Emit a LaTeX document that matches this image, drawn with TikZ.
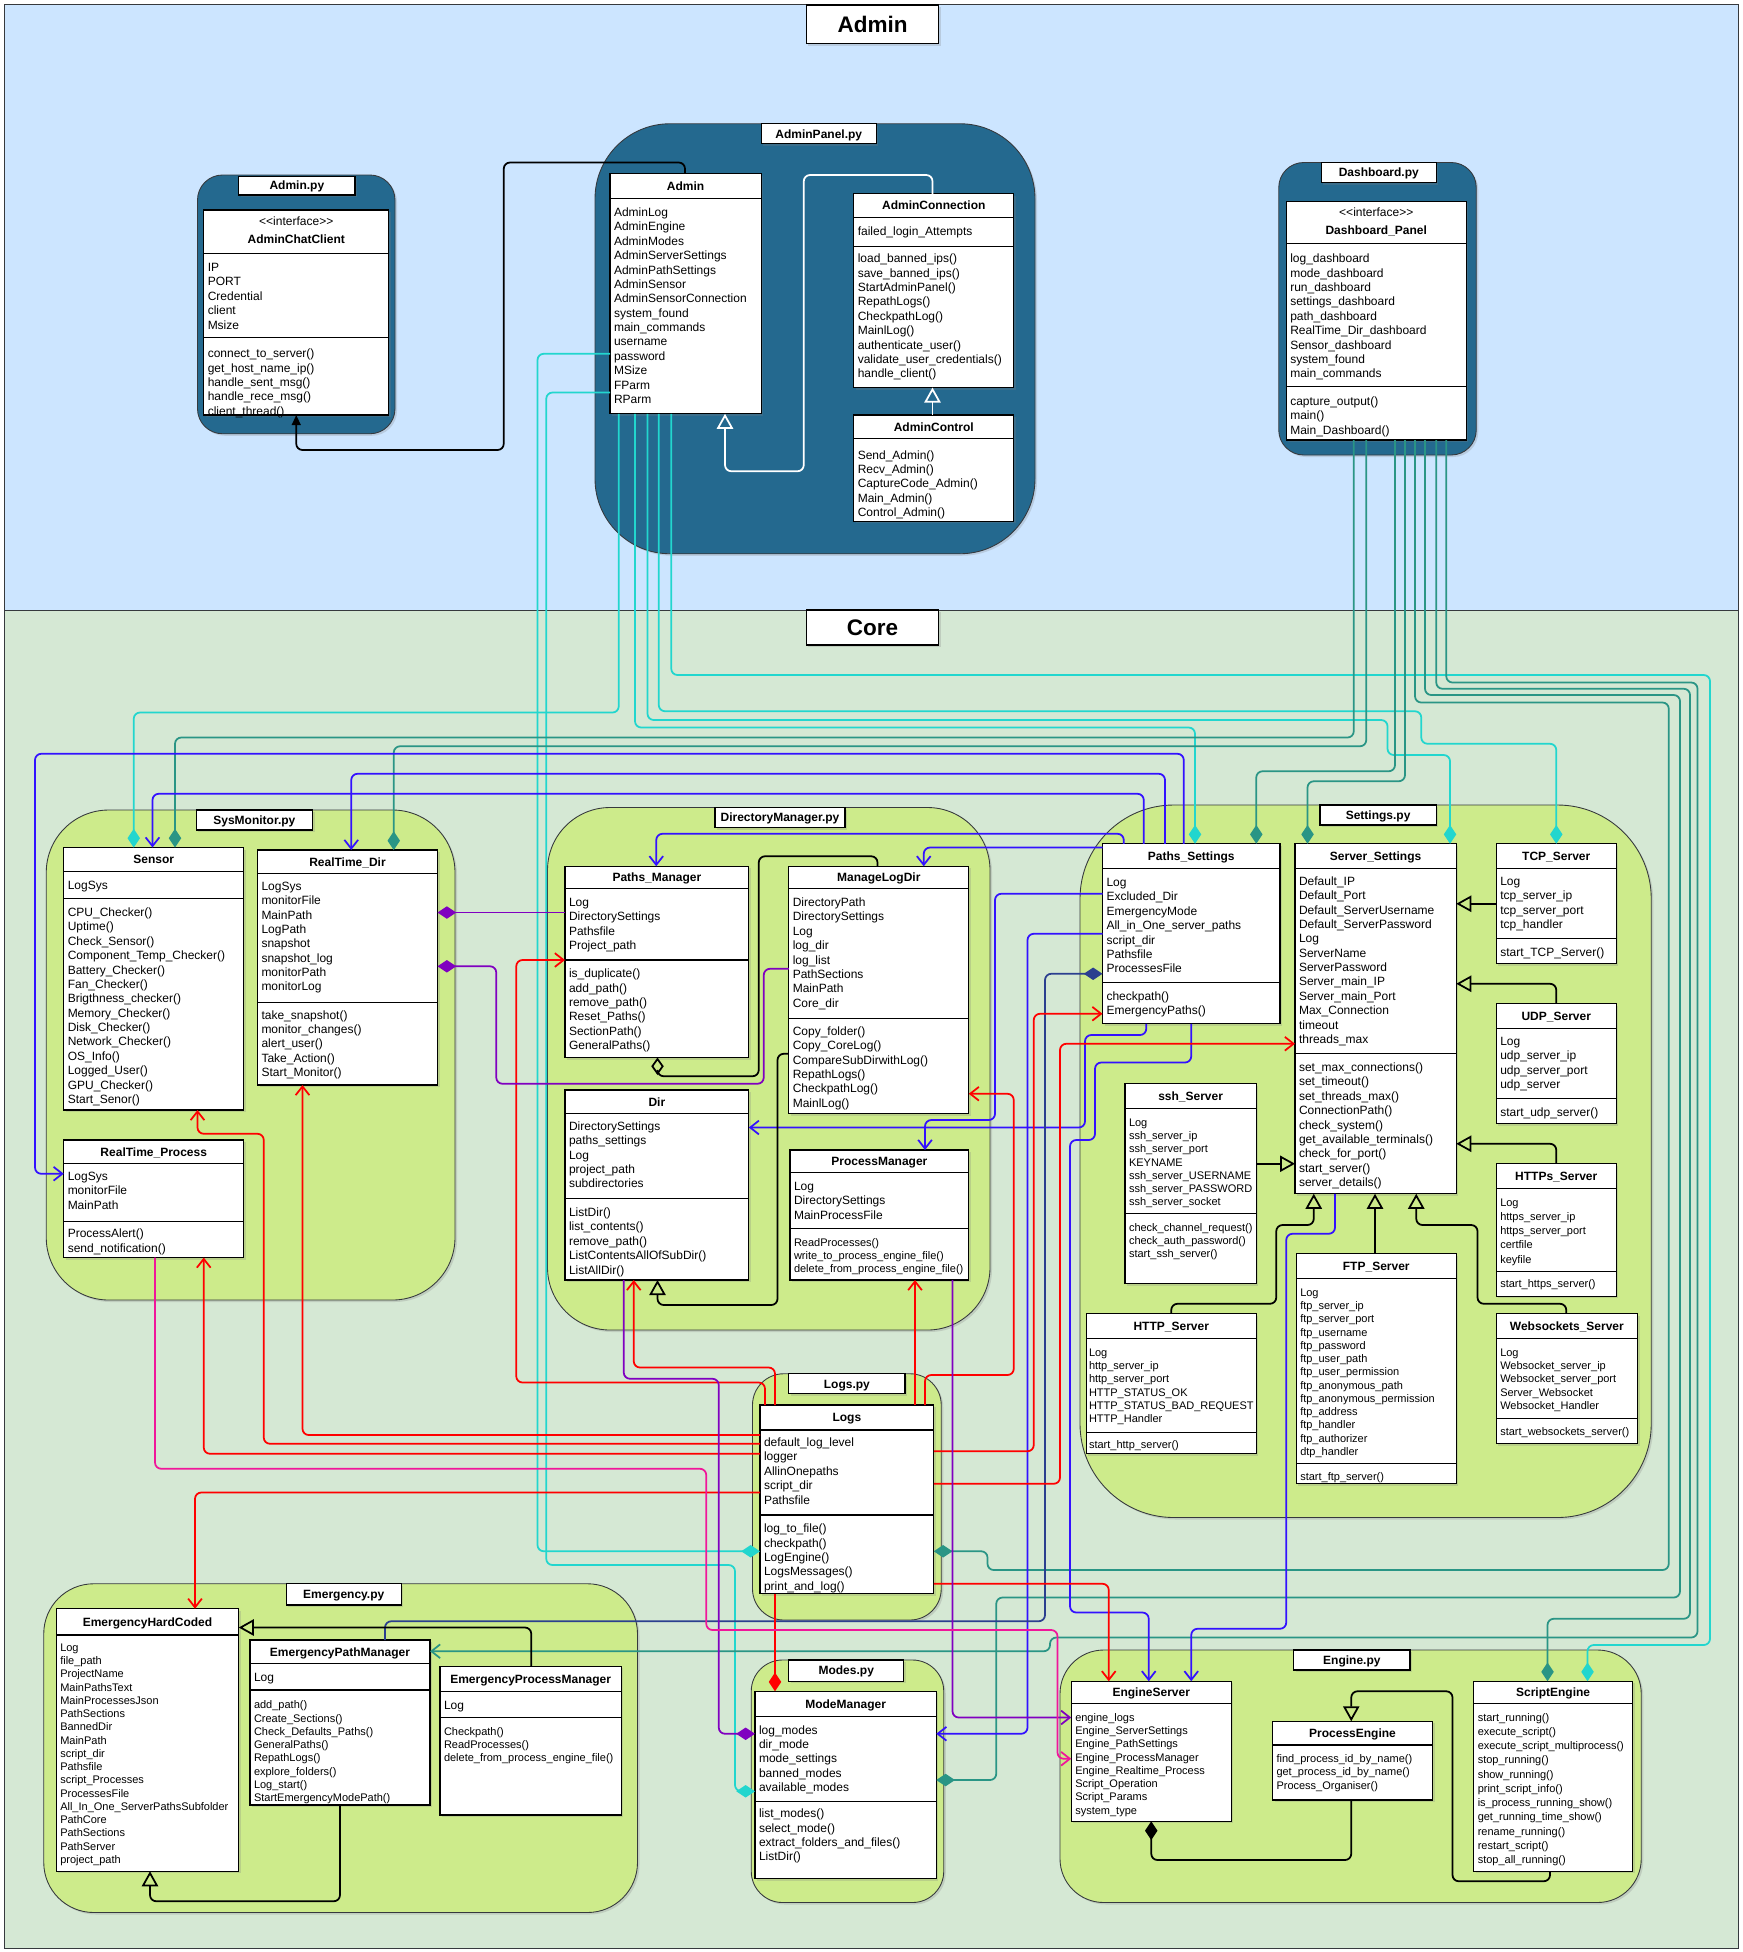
\documentclass[tikz,border=0pt]{standalone}
\usepackage{fontspec}
\setmainfont{Liberation Sans}
\usetikzlibrary{arrows.meta,shadows}
\definecolor{adminbg}{HTML}{CCE5FF}
\definecolor{corebg}{HTML}{D5E8D4}
\definecolor{pkgblue}{HTML}{24698F}
\definecolor{pkggreen}{HTML}{CDEB8B}
\definecolor{cyanc}{HTML}{22D6CE}
\definecolor{tealc}{HTML}{2A9585}
\definecolor{bluec}{HTML}{3311FF}
\definecolor{navyc}{HTML}{2B3F8F}
\definecolor{redc}{HTML}{FF0000}
\definecolor{purplec}{HTML}{8000C0}
\definecolor{pinkc}{HTML}{F0169A}
\definecolor{edgec}{HTML}{36393D}
\newcounter{tn}
\tikzset{
  shad/.style={drop shadow={opacity=0.25,shadow xshift=1.6pt,shadow yshift=-1.6pt}},
  region/.style={draw=edgec,line width=0.6pt,inner sep=0pt,outer sep=0pt},
  pkg/.style={draw=edgec,line width=0.7pt,inner sep=0pt,outer sep=0pt,shad},
  clsbox/.style={draw=black,fill=white,line width=0.9pt,inner sep=0pt,outer sep=0pt,shad},
  lbl/.style={draw=black,fill=white,line width=0.9pt,inner sep=0pt,outer sep=0pt,shad,
     font=\bfseries\fontsize{9.6}{11.5}\selectfont,text height=6.9pt,text depth=0pt},
  ttl/.style={inner sep=0pt,font=\bfseries\fontsize{9.6}{11.5}\selectfont,text height=6.9pt,text depth=0pt},
  ster/.style={inner sep=0pt,font=\fontsize{9.6}{11.5}\selectfont,text height=6.9pt,text depth=0pt},
  ct/.style={anchor=north west,inner sep=0pt,align=left,font=\fontsize{9.6}{11.5}\selectfont,yshift=5.05pt},
  cs/.style={anchor=north west,inner sep=0pt,align=left,font=\fontsize{8.8}{10.6}\selectfont,yshift=4.6pt},
  cw/.style={anchor=north west,inner sep=0pt,align=left,font=\fontsize{8.8}{11.4}\selectfont,yshift=5.2pt},
  dv/.style={draw=black,line width=0.9pt},
  conn/.style={line width=1.4pt,rounded corners=5pt},
  fd/.style={-{Diamond[length=15pt,width=10pt]}},
  od/.style={-{Diamond[open,length=14pt,width=10pt]}},
  oa/.style={-{Straight Barb[length=7pt,width=11pt]}},
  tri/.style={-{Triangle[open,length=12pt,width=13pt]}},
  fa/.style={-{Triangle[length=8pt,width=7pt]}},
  bigt/.style={draw=black,fill=white,line width=0.9pt,inner sep=0pt,outer sep=0pt,shad,
     font=\bfseries\fontsize{18}{20}\selectfont,text height=13pt,text depth=0pt}
}
\newcommand\ubox[6][]{\node[#1,minimum width={(#5)-(#3)},minimum height={(#6)-(#4)}] (#2) at ({((#3)+(#5))/2},{((#4)+(#6))/2}) {};}
\newcommand\ulabel[6]{\node[lbl,minimum width={(#4)-(#2)},minimum height={(#5)-(#3)}] (#1) at ({((#2)+(#4))/2},{((#3)+(#5))/2}) {#6};}
\newcommand\uclass[7]{\ubox[clsbox]{#1}{#2}{#3}{#4}{#5}\draw[dv] (#2,#6) -- (#4,#6);\node[ttl] (#1-t) at ({((#2)+(#4))/2},{((#3)+(#6))/2}) {#7};}
\newcommand\udiv[3]{\draw[dv] (#1,#3) -- (#2,#3);}
\newcommand\utext[4][ct]{\stepcounter{tn}\node[#1] (tx\arabic{tn}) at (#2,#3) {\strut #4};}
\newcommand\ifc{<\kern0pt<interface>\kern0pt>}
\begin{document}
\begin{tikzpicture}[x=1pt,y=-1pt]
\useasboundingbox (0,0) rectangle (1394.4,1561.6);
% regions
\ubox[region,fill=adminbg]{aregion}{3.5}{3.5}{1391}{488}
\ubox[region,fill=corebg]{cregion}{3.5}{488}{1391}{1558.5}
\node[bigt,minimum width=106,minimum height=31] (atitle) at (698,19.5) {Admin};
\node[bigt,minimum width=106,minimum height=28] (ctitle) at (698,502) {Core};
% ---------- Admin.py
\ubox[pkg,fill=pkgblue,rounded corners=20pt]{adminpy}{158}{140}{316}{347}
\ulabel{adminpyl}{191}{141}{284}{156}{Admin.py}
\ubox[clsbox]{acc}{163}{168}{311}{332}
\node[ster] (acc-s) at (237,177) {\ifc};
\node[ttl] (acc-t) at (237,191) {AdminChatClient};
\udiv{163}{311}{203}\udiv{163}{311}{270}
\utext{166}{214}{IP\\PORT\\Credential\\client\\Msize}
\utext{166}{283}{connect\_to\_server()\\get\_host\_name\_ip()\\handle\_sent\_msg()\\handle\_rece\_msg()\\client\_thread()}
% ---------- AdminPanel.py
\ubox[pkg,fill=pkgblue,rounded corners=60pt]{adminpanel}{476}{99}{828}{443}
\ulabel{adminpanell}{609}{99}{701}{115}{AdminPanel.py}
\uclass{admin}{488}{139}{609}{331}{159}{Admin}
\utext{491}{170}{AdminLog\\AdminEngine\\AdminModes\\AdminServerSettings\\AdminPathSettings\\AdminSensor\\AdminSensorConnection\\system\_found\\main\_commands\\username\\password\\MSize\\FParm\\RParm}
\uclass{aconn}{683}{155}{811}{310}{174}{AdminConnection}
\udiv{683}{811}{197}
\utext{686}{185}{failed\_login\_Attempts}
\utext{686}{207}{load\_banned\_ips()\\save\_banned\_ips()\\StartAdminPanel()\\RepathLogs()\\CheckpathLog()\\MainlLog()\\authenticate\_user()\\validate\_user\_credentials()\\handle\_client()}
\uclass{actrl}{683}{332}{811}{417}{351}{AdminControl}
\utext{686}{364}{Send\_Admin()\\Recv\_Admin()\\CaptureCode\_Admin()\\Main\_Admin()\\Control\_Admin()}
% ---------- Dashboard.py
\ubox[pkg,fill=pkgblue,rounded corners=20pt]{dashpy}{1023}{130}{1181}{364}
\ulabel{dashl}{1057}{130}{1149}{146}{Dashboard.py}
\ubox[clsbox]{dash}{1029}{161}{1173}{352}
\node[ster] (dash-s) at (1101,170) {\ifc};
\node[ttl] (dash-t) at (1101,184) {Dashboard\_Panel};
\udiv{1029}{1173}{195}\udiv{1029}{1173}{309}
\utext{1032}{207}{log\_dashboard\\mode\_dashboard\\run\_dashboard\\settings\_dashboard\\path\_dashboard\\RealTime\_Dir\_dashboard\\Sensor\_dashboard\\system\_found\\main\_commands}
\utext{1032}{321}{capture\_output()\\main()\\Main\_Dashboard()}
% ---------- SysMonitor.py
\ubox[pkg,fill=pkggreen,rounded corners=50pt]{sysmon}{37}{648}{364}{1040}
\ulabel{sysmonl}{157}{648}{250}{664}{SysMonitor.py}
\uclass{sensor}{51}{678}{195}{888}{697}{Sensor}
\udiv{51}{195}{719}
\utext{54}{708}{LogSys}
\utext{54}{730}{CPU\_Checker()\\Uptime()\\Check\_Sensor()\\Component\_Temp\_Checker()\\Battery\_Checker()\\Fan\_Checker()\\Brigthness\_checker()\\Memory\_Checker()\\Disk\_Checker()\\Network\_Checker()\\OS\_Info()\\Logged\_User()\\GPU\_Checker()\\Start\_Senor()}
\uclass{rtdir}{206}{680}{350}{868}{699}{RealTime\_Dir}
\udiv{206}{350}{802}
\utext{209}{709}{LogSys\\monitorFile\\MainPath\\LogPath\\snapshot\\snapshot\_log\\monitorPath\\monitorLog}
\utext{209}{812}{take\_snapshot()\\monitor\_changes()\\alert\_user()\\Take\_Action()\\Start\_Monitor()}
\uclass{rtproc}{51}{912}{195}{1006}{931}{RealTime\_Process}
\udiv{51}{195}{977}
\utext{54}{941}{LogSys\\monitorFile\\MainPath}
\utext{54}{987}{ProcessAlert()\\send\_notification()}
% ---------- DirectoryManager.py
\ubox[pkg,fill=pkggreen,rounded corners=50pt]{dirmgr}{438}{646}{792}{1064}
\ulabel{dirmgrl}{572}{646}{676}{662}{DirectoryManager.py}
\uclass{pathsmgr}{452}{693}{599}{846}{711}{Paths\_Manager}
\udiv{452}{599}{768}
\utext{455}{722}{Log\\DirectorySettings\\Pathsfile\\Project\_path}
\utext{455}{779}{is\_duplicate()\\add\_path()\\remove\_path()\\Reset\_Paths()\\SectionPath()\\GeneralPaths()}
\uclass{mlogdir}{631}{693}{775}{891}{711}{ManageLogDir}
\udiv{631}{775}{815}
\utext{634}{722}{DirectoryPath\\DirectorySettings\\Log\\log\_dir\\log\_list\\PathSections\\MainPath\\Core\_dir}
\utext{634}{825}{Copy\_folder()\\Copy\_CoreLog()\\CompareSubDirwithLog()\\RepathLogs()\\CheckpathLog()\\MainlLog()}
\uclass{dir}{452}{872}{599}{1024}{891}{Dir}
\udiv{452}{599}{959}
\utext{455}{901}{DirectorySettings\\paths\_settings\\Log\\project\_path\\subdirectories}
\utext{455}{970}{ListDir()\\list\_contents()\\remove\_path()\\ListContentsAllOfSubDir()\\ListAllDir()}
\uclass{procmgr}{632}{920}{775}{1024}{938}{ProcessManager}
\udiv{632}{775}{983}
\utext{635}{949}{Log\\DirectorySettings\\MainProcessFile}
\utext[cs]{635}{994}{ReadProcesses()\\write\_to\_process\_engine\_file()\\delete\_from\_process\_engine\_file()}
% ---------- Settings.py
\ubox[pkg,fill=pkggreen,rounded corners=75pt]{settings}{864}{644}{1321}{1214}
\ulabel{settingsl}{1056}{644}{1149}{660}{Settings.py}
\uclass{pathsset}{882}{675}{1024}{819}{695}{Paths\_Settings}
\udiv{882}{1024}{786}
\utext{885}{706}{Log\\Excluded\_Dir\\EmergencyMode\\All\_in\_One\_server\_paths\\script\_dir\\Pathsfile\\ProcessesFile}
\utext{885}{797}{checkpath()\\EmergencyPaths()}
\uclass{servset}{1036}{675}{1165}{955}{695}{Server\_Settings}
\udiv{1036}{1165}{843}
\utext{1039}{705}{Default\_IP\\Default\_Port\\Default\_ServerUsername\\Default\_ServerPassword\\Log\\ServerName\\ServerPassword\\Server\_main\_IP\\Server\_main\_Port\\Max\_Connection\\timeout\\threads\_max}
\utext{1039}{854}{set\_max\_connections()\\set\_timeout()\\set\_threads\_max()\\ConnectionPath()\\check\_system()\\get\_available\_terminals()\\check\_for\_port()\\start\_server()\\server\_details()}
\uclass{tcp}{1197}{675}{1293}{771}{695}{TCP\_Server}
\udiv{1197}{1293}{751}
\utext{1200}{705}{Log\\tcp\_server\_ip\\tcp\_server\_port\\tcp\_handler}
\utext{1200}{762}{start\_TCP\_Server()}
\uclass{udp}{1197}{803}{1293}{899}{823}{UDP\_Server}
\udiv{1197}{1293}{879}
\utext{1200}{833}{Log\\udp\_server\_ip\\udp\_server\_port\\udp\_server}
\utext{1200}{890}{start\_udp\_server()}
\uclass{https}{1197}{931}{1293}{1037}{951}{HTTPs\_Server}
\udiv{1197}{1293}{1017}
\utext[cw]{1200}{962}{Log\\https\_server\_ip\\https\_server\_port\\certfile\\keyfile}
\utext[cs]{1200}{1027}{start\_https\_server()}
\uclass{ssh}{900}{867}{1005}{1027}{887}{ssh\_Server}
\udiv{900}{1005}{971}
\utext[cs]{903}{898}{Log\\ssh\_server\_ip\\ssh\_server\_port\\KEYNAME\\ssh\_server\_USERNAME\\ssh\_server\_PASSWORD\\ssh\_server\_socket}
\utext[cs]{903}{982}{check\_channel\_request()\\check\_auth\_password()\\start\_ssh\_server()}
\uclass{http}{869}{1051}{1005}{1163}{1071}{HTTP\_Server}
\udiv{869}{1005}{1146}
\utext[cs]{871}{1082}{Log\\http\_server\_ip\\http\_server\_port\\HTTP\_STATUS\_OK\\HTTP\_STATUS\_BAD\_REQUEST\\HTTP\_Handler}
\utext[cs]{871}{1156}{start\_http\_server()}
\uclass{ftp}{1037}{1003}{1165}{1187}{1023}{FTP\_Server}
\udiv{1037}{1165}{1171}
\utext[cs]{1040}{1034}{Log\\ftp\_server\_ip\\ftp\_server\_port\\ftp\_username\\ftp\_password\\ftp\_user\_path\\ftp\_user\_permission\\ftp\_anonymous\_path\\ftp\_anonymous\_permission\\ftp\_address\\ftp\_handler\\ftp\_authorizer\\dtp\_handler}
\utext[cs]{1040}{1181}{start\_ftp\_server()}
\uclass{websock}{1197}{1051}{1310}{1155}{1071}{Websockets\_Server}
\udiv{1197}{1310}{1135}
\utext[cs]{1200}{1082}{Log\\Websocket\_server\_ip\\Websocket\_server\_port\\Server\_Websocket\\Websocket\_Handler}
\utext[cs]{1200}{1145}{start\_websockets\_server()}
% ---------- Logs.py
\ubox[pkg,fill=pkggreen,rounded corners=25pt]{logspy}{602}{1099}{753}{1296}
\ulabel{logsl}{631}{1099}{724}{1115}{Logs.py}
\uclass{logs}{608}{1124}{747}{1275}{1144}{Logs}
\udiv{608}{747}{1212}
\utext{611}{1154}{default\_log\_level\\logger\\AllinOnepaths\\script\_dir\\Pathsfile}
\utext{611}{1223}{log\_to\_file()\\checkpath()\\LogEngine()\\LogsMessages()\\print\_and\_log()}
% ---------- Emergency.py
\ubox[pkg,fill=pkggreen,rounded corners=40pt]{emerpy}{35}{1267}{510}{1530}
\ulabel{emerl}{229}{1267}{321}{1284}{Emergency.py}
\uclass{ehc}{45}{1287}{191}{1497}{1308}{EmergencyHardCoded}
\utext[cs]{48}{1318}{Log\\file\_path\\ProjectName\\MainPathsText\\MainProcessesJson\\PathSections\\BannedDir\\MainPath\\script\_dir\\Pathsfile\\script\_Processes\\ProcessesFile\\All\_In\_One\_ServerPathsSubfolder\\PathCore\\PathSections\\PathServer\\project\_path}
\uclass{epm}{200}{1312}{344}{1444}{1331}{EmergencyPathManager}
\udiv{200}{344}{1352}
\utext{203}{1342}{Log}
\utext[cs]{203}{1364}{add\_path()\\Create\_Sections()\\Check\_Defaults\_Paths()\\GeneralPaths()\\RepathLogs()\\explore\_folders()\\Log\_start()\\StartEmergencyModePath()}
\uclass{eprm}{352}{1333}{497}{1452}{1353}{EmergencyProcessManager}
\udiv{352}{497}{1374}
\utext{355}{1364}{Log}
\utext[cs]{355}{1385}{Checkpath()\\ReadProcesses()\\delete\_from\_process\_engine\_file()}
% ---------- Modes.py
\ubox[pkg,fill=pkggreen,rounded corners=25pt]{modespy}{601}{1328}{755}{1522}
\ulabel{modesl}{631}{1328}{723}{1345}{Modes.py}
\uclass{modemgr}{604}{1353}{749}{1503}{1373}{ModeManager}
\udiv{604}{749}{1441}
\utext{607}{1384}{log\_modes\\dir\_mode\\mode\_settings\\banned\_modes\\available\_modes}
\utext{607}{1451}{list\_modes()\\select\_mode()\\extract\_folders\_and\_files()\\ListDir()}
% ---------- Engine.py
\ubox[pkg,fill=pkggreen,rounded corners=35pt]{enginepy}{848}{1320}{1313}{1522}
\ulabel{enginel}{1035}{1320}{1128}{1336}{Engine.py}
\uclass{engsrv}{857}{1345}{985}{1457}{1363}{EngineServer}
\utext[cs]{860}{1374}{engine\_logs\\Engine\_ServerSettings\\Engine\_PathSettings\\Engine\_ProcessManager\\Engine\_Realtime\_Process\\Script\_Operation\\Script\_Params\\system\_type}
\uclass{procengine}{1018}{1377}{1146}{1440}{1396}{ProcessEngine}
\utext[cs]{1021}{1407}{find\_process\_id\_by\_name()\\get\_process\_id\_by\_name()\\Process\_Organiser()}
\uclass{scripteng}{1179}{1345}{1306}{1497}{1363}{ScriptEngine}
\utext[cw]{1182}{1374}{start\_running()\\execute\_script()\\execute\_script\_multiprocess()\\stop\_running()\\show\_running()\\print\_script\_info()\\is\_process\_running\_show()\\get\_running\_time\_show()\\rename\_running()\\restart\_script()\\stop\_all\_running()}
% ================= connectors
% Admin panel internals
\draw[conn,white,tri] (746,0 |- actrl.north) -- (746,0 |- aconn.south);
\draw[conn,white,tri] (746,0 |- aconn.north) -- (746,140) -- (643,140) -- (643,377) -- (580,377) -- (580,0 |- admin.south);
\draw[conn,black,fa] (548,0 |- admin.north) -- (548,130) -- (403,130) -- (403,360) -- (237,360) -- (237,0 |- acc.south);
% cyan (Admin)
\draw[conn,cyanc,fd] (495,0 |- admin.south) -- (495,570) -- (107,570) -- (107,0 |- sensor.north);
\draw[conn,cyanc,fd] (508,0 |- admin.south) -- (508,582) -- (956,582) -- (956,0 |- pathsset.north);
\draw[conn,cyanc,fd] (518,0 |- admin.south) -- (518,576) -- (1110,576) -- (1110,604) -- (1160,604) -- (1160,0 |- servset.north);
\draw[conn,cyanc,fd] (527,0 |- admin.south) -- (527,569) -- (1137,569) -- (1137,595) -- (1245,595) -- (1245,0 |- tcp.north);
\draw[conn,cyanc,fd] (537,0 |- admin.south) -- (537,540) -- (1368,540) -- (1368,1316) -- (1270,1316) -- (1270,0 |- scripteng.north);
\draw[conn,cyanc,fd] (admin.west |- 0,283) -- (430,283) -- (430,1241) -- (logs.west |- 0,1241);
\draw[conn,cyanc,fd] (admin.west |- 0,314) -- (437,314) -- (437,1252) -- (588,1252) -- (588,1433) -- (modemgr.west |- 0,1433);
% teal (Dashboard)
\draw[conn,tealc,fd] (1083,0 |- dash.south) -- (1083,590) -- (140,590) -- (140,0 |- sensor.north);
\draw[conn,tealc,fd] (1093,0 |- dash.south) -- (1093,597) -- (315,597) -- (315,0 |- rtdir.north);
\draw[conn,tealc,fd] (1116,0 |- dash.south) -- (1116,617) -- (1005,617) -- (1005,0 |- pathsset.north);
\draw[conn,tealc,fd] (1124,0 |- dash.south) -- (1124,625) -- (1046,625) -- (1046,0 |- servset.north);
\draw[conn,tealc,fd] (1132,0 |- dash.south) -- (1132,562) -- (1335,562) -- (1335,1256) -- (790,1256) -- (790,1241) -- (logs.east |- 0,1241);
\draw[conn,tealc,fd] (1140,0 |- dash.south) -- (1140,556) -- (1344,556) -- (1344,1278) -- (797,1278) -- (797,1424) -- (modemgr.east |- 0,1424);
\draw[conn,tealc,fd] (1149,0 |- dash.south) -- (1149,551) -- (1352,551) -- (1352,1295) -- (1238,1295) -- (1238,0 |- scripteng.north);
\draw[conn,tealc,oa] (1157,0 |- dash.south) -- (1157,546) -- (1358,546) -- (1358,1310) -- (840,1310) -- (840,1321) -- (epm.east |- 0,1321);
% blue
\draw[conn,bluec,oa] (947,0 |- pathsset.north) -- (947,603) -- (28,603) -- (28,939) -- (rtproc.west |- 0,939);
\draw[conn,bluec,oa] (932,0 |- pathsset.north) -- (932,619) -- (281,619) -- (281,0 |- rtdir.north);
\draw[conn,bluec,oa] (915,0 |- pathsset.north) -- (915,635) -- (122,635) -- (122,0 |- sensor.north);
\draw[conn,bluec,oa] (899,0 |- pathsset.north) -- (899,667) -- (525,667) -- (525,0 |- pathsmgr.north);
\draw[conn,bluec,oa] (pathsset.west |- 0,678) -- (739,678) -- (739,0 |- mlogdir.north);
\draw[conn,bluec,oa] (pathsset.west |- 0,715) -- (796,715) -- (796,896) -- (740,896) -- (740,0 |- procmgr.north);
\draw[conn,bluec,oa] (pathsset.west |- 0,747) -- (822,747) -- (822,1387) -- (modemgr.east |- 0,1387);
\draw[conn,bluec,oa] (917,0 |- pathsset.south) -- (917,828) -- (868,828) -- (868,902) -- (dir.east |- 0,902);
\draw[conn,bluec,oa] (953,0 |- pathsset.south) -- (953,850) -- (876,850) -- (876,912) -- (856,912) -- (856,1290) -- (919,1290) -- (919,0 |- engsrv.north);
\draw[conn,bluec,oa] (1068,0 |- servset.south) -- (1068,987) -- (1029,987) -- (1029,1303) -- (953,1303) -- (953,0 |- engsrv.north);
% navy
\draw[conn,navyc,fd] (308,0 |- epm.north) -- (308,1297) -- (836,1297) -- (836,779) -- (pathsset.west |- 0,779);
% red
\draw[conn,redc,oa] (logs.west |- 0,1155) -- (211,1155) -- (211,907) -- (158,907) -- (158,0 |- sensor.south);
\draw[conn,redc,oa] (logs.west |- 0,1148) -- (242,1148) -- (242,0 |- rtdir.south);
\draw[conn,redc,oa] (logs.west |- 0,1163) -- (163,1163) -- (163,0 |- rtproc.south);
\draw[conn,redc,oa] (logs.west |- 0,1194) -- (156,1194) -- (156,0 |- ehc.north);
\draw[conn,redc,oa] (612,0 |- logs.north) -- (612,1106) -- (413,1106) -- (413,768) -- (pathsmgr.west |- 0,768);
\draw[conn,redc,oa] (620,0 |- logs.north) -- (620,1094) -- (507,1094) -- (507,0 |- dir.south);
\draw[conn,redc,oa] (732,0 |- logs.north) -- (732,0 |- procmgr.south);
\draw[conn,redc,oa] (740,0 |- logs.north) -- (740,1100) -- (811,1100) -- (811,875) -- (mlogdir.east |- 0,875);
\draw[conn,redc,oa] (logs.east |- 0,1161) -- (827,1161) -- (827,811) -- (pathsset.west |- 0,811);
\draw[conn,redc,oa] (logs.east |- 0,1187) -- (848,1187) -- (848,835) -- (servset.west |- 0,835);
\draw[conn,redc,oa] (logs.east |- 0,1267) -- (887,1267) -- (887,0 |- engsrv.north);
\draw[conn,redc,fd] (620,0 |- logs.south) -- (620,0 |- modemgr.north);
% purple
\draw[conn,purplec,fd] (pathsmgr.west |- 0,730) -- (rtdir.east |- 0,730);
\draw[conn,purplec,fd] (mlogdir.west |- 0,775) -- (611,775) -- (611,867) -- (397,867) -- (397,773) -- (rtdir.east |- 0,773);
\draw[conn,purplec,fd] (499,0 |- dir.south) -- (499,1103) -- (575,1103) -- (575,1387) -- (modemgr.west |- 0,1387);
\draw[conn,purplec,oa] (762,0 |- procmgr.south) -- (762,1374) -- (engsrv.west |- 0,1374);
% pink
\draw[conn,pinkc,oa] (124,0 |- rtproc.south) -- (124,1175) -- (565,1175) -- (565,1304) -- (846,1304) -- (846,1407) -- (engsrv.west |- 0,1407);
% black (DirectoryManager)
\draw[conn,black,od] (702,0 |- mlogdir.north) -- (702,685) -- (607,685) -- (607,861) -- (526,861) -- (526,0 |- pathsmgr.south);
\draw[conn,black,tri] (mlogdir.west |- 0,843) -- (622,843) -- (622,1044) -- (526,1044) -- (526,0 |- dir.south);
% black (Settings)
\draw[conn,black,tri] (tcp.west |- 0,723) -- (servset.east |- 0,723);
\draw[conn,black,tri] (1245,0 |- udp.north) -- (1245,787) -- (servset.east |- 0,787);
\draw[conn,black,tri] (1245,0 |- https.north) -- (1245,915) -- (servset.east |- 0,915);
\draw[conn,black,tri] (ssh.east |- 0,931) -- (servset.west |- 0,931);
\draw[conn,black,tri] (937,0 |- http.north) -- (937,1043) -- (1021,1043) -- (1021,980) -- (1051,980) -- (1051,0 |- servset.south);
\draw[conn,black,tri] (1100,0 |- ftp.north) -- (1100,0 |- servset.south);
\draw[conn,black,tri] (1253,0 |- websock.north) -- (1253,1043) -- (1182,1043) -- (1182,980) -- (1133,980) -- (1133,0 |- servset.south);
% black (Engine)
\draw[conn,black,fd] (1081,0 |- procengine.south) -- (1081,1488) -- (921,1488) -- (921,0 |- engsrv.south);
\draw[conn,black,tri] (1240,0 |- scripteng.south) -- (1240,1505) -- (1162,1505) -- (1162,1353) -- (1081,1353) -- (1081,0 |- procengine.north);
% black (Emergency)
\draw[conn,black,tri] (272,0 |- epm.south) -- (272,1521) -- (120,1521) -- (120,0 |- ehc.south);
\draw[conn,black,tri] (425,0 |- eprm.north) -- (425,1302) -- (ehc.east |- 0,1302);
\end{tikzpicture}
\end{document}
